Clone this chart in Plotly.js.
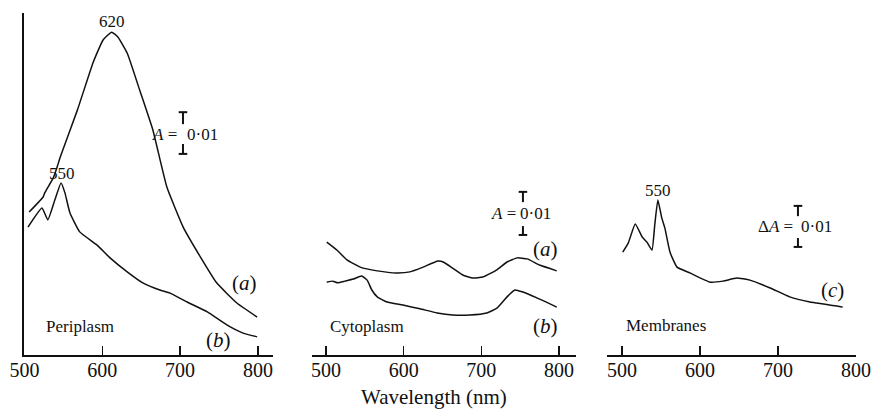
<!DOCTYPE html>
<html>
<head>
<meta charset="utf-8">
<script src="https://cdn.plot.ly/plotly-3.0.1.min.js"></script>
<style>html,body{margin:0;padding:0;background:#fff;}#chart{width:875px;height:411px;}</style>
</head>
<body>
<div id="chart"></div>
<script>
// Wavelength (nm) and relative absorbance (arbitrary units, 0-100 full axis)
const periA_x = [506, 524, 526, 537, 542, 546, 568, 588, 601, 612, 620, 632, 648, 665, 683, 704, 726, 747, 773, 799];
const periA_y = [41.8, 46.2, 47.4, 51.8, 55.0, 57.9, 71.6, 85.4, 92.1, 94.4, 93.0, 88.3, 77.5, 65.8, 49.1, 37.4, 28.7, 21.1, 15.2, 11.1];
const periB_x = [504.5, 522.5, 530, 539, 547, 552, 558.5, 571, 593, 610, 632, 652, 674, 687, 709, 735, 760, 781, 799];
const periB_y = [37.4, 43.0, 39.5, 45.3, 50.3, 47.4, 41.5, 36.0, 32.2, 28.4, 24.3, 21.1, 19.0, 18.1, 15.5, 12.6, 8.8, 6.4, 5.3];
const cytoA_x = [501, 514, 527, 544, 566, 591, 608, 625, 644, 651, 663, 676, 689, 702, 720, 733, 746, 759, 775, 797];
const cytoA_y = [33.0, 30.7, 27.8, 25.7, 24.6, 24.0, 24.3, 25.7, 27.5, 27.2, 25.4, 23.4, 22.5, 22.8, 24.9, 27.2, 28.4, 28.1, 26.3, 24.6];
const cytoB_x = [501, 509, 515, 524.5, 535, 546, 553, 559, 566, 578.5, 599, 621, 643, 663, 685, 707, 720, 733, 743, 753.5, 771.5, 797];
const cytoB_y = [21.3, 21.6, 21.1, 21.6, 22.2, 23.1, 21.9, 19.0, 17.0, 15.5, 14.6, 13.5, 12.3, 11.7, 11.7, 12.3, 13.7, 17.0, 19.0, 18.4, 16.7, 14.0];
const membC_x = [501, 508, 517, 526, 532, 538.5, 542, 546, 551, 555, 561.5, 570.5, 587, 613, 629.5, 647, 664, 690, 715, 741, 776, 783];
const membC_y = [30.1, 32.7, 38.3, 34.5, 33.0, 30.7, 38.0, 45.3, 40.1, 37.1, 30.1, 25.7, 24.0, 21.3, 21.6, 22.5, 21.9, 19.6, 17.0, 15.5, 14.3, 14.0];
const tickVals = [500, 600, 700, 800];
const tickText = ['500', '600', '700', '800'];
const panelNames = ['Periplasm', 'Cytoplasm', 'Membranes'];
const peakLabels = ['620', '550', '550'];
const scaleLabels = ['<i>A</i> =', '<i>A</i> =', 'Δ<i>A</i> ='];
const scaleValue = '0·01';

const W = 875, H = 411;
const px = v => v / W;
const yBot = (H - 355) / H, yTop = (H - 13) / H;
const serif = 'Liberation Serif, Times New Roman, serif';
const ink = '#111';

function tr(x, y, xa, ya) {
  return {x: x, y: y, xaxis: xa, yaxis: ya, type: 'scatter', mode: 'lines',
    line: {color: ink, width: 1.5, shape: 'spline', smoothing: 0.4}, hoverinfo: 'skip', showlegend: false};
}
const data = [
  tr(periA_x, periA_y, 'x', 'y'),
  tr(periB_x, periB_y, 'x', 'y'),
  tr(cytoA_x, cytoA_y, 'x2', 'y2'),
  tr(cytoB_x, cytoB_y, 'x2', 'y2'),
  tr(membC_x, membC_y, 'x3', 'y3')
];

function xax(dom, rng, anchor) {
  return {domain: dom, range: rng, anchor: anchor, showline: true, linecolor: ink, linewidth: 2,
    ticks: 'inside', ticklen: 9, tickwidth: 1.5, tickcolor: ink, tickvals: tickVals, ticktext: tickText,
    ticklabelstandoff: -4,
    tickfont: {family: serif, size: 20, color: ink}, showgrid: false, zeroline: false, fixedrange: true};
}
function yax(anchor, show) {
  return {domain: [yBot, yTop], range: [0, 100], anchor: anchor, showline: show, linecolor: ink, linewidth: 2,
    ticks: '', showticklabels: false, showgrid: false, zeroline: false, fixedrange: true};
}

function ann(xr, yr, x, y, text, size, xanchor) {
  return {xref: xr, yref: yr, x: x, y: y, text: text, showarrow: false, xanchor: xanchor || 'center', yanchor: 'middle',
    font: {family: serif, size: size, color: ink}};
}
const annotations = [
  ann('x', 'y', 612, 97.4, peakLabels[0], 17),
  ann('x', 'y', 548, 53.2, peakLabels[1], 17),
  ann('x', 'y', 783, 21.1, '(<i>a</i>)', 21),
  ann('x', 'y', 749, 4.4, '(<i>b</i>)', 21),
  ann('x', 'y', 525, 8.2, panelNames[0], 17, 'left'),
  ann('x', 'y', 699, 64.6, scaleLabels[0], 17, 'right'),
  ann('x', 'y', 706, 64.6, scaleValue, 17, 'left'),
  ann('x2', 'y2', 782, 31.0, '(<i>a</i>)', 21),
  ann('x2', 'y2', 782, 8.5, '(<i>b</i>)', 21),
  ann('x2', 'y2', 502, 8.2, panelNames[1], 17, 'left'),
  ann('x2', 'y2', 747, 41.5, scaleLabels[1], 17, 'right'),
  ann('x2', 'y2', 747, 41.5, scaleValue, 17, 'left'),
  ann('x3', 'y3', 770.5, 19.0, '(<i>c</i>)', 21),
  ann('x3', 'y3', 503, 8.5, panelNames[2], 17, 'left'),
  ann('x3', 'y3', 546, 48.2, peakLabels[2], 17),
  ann('x3', 'y3', 722, 37.5, scaleLabels[2], 17, 'right'),
  ann('x3', 'y3', 727, 37.5, scaleValue, 17, 'left'),
  {xref: 'paper', yref: 'paper', x: px(434), y: (H - 397) / H, text: 'Wavelength (nm)', showarrow: false,
    xanchor: 'center', yanchor: 'middle', font: {family: serif, size: 21, color: ink}}
];

function bar(xr, yr, x, yTopV, yTopEnd, yBotStart, yBotV, cap) {
  const s = {type: 'line', xref: xr, yref: yr, line: {color: ink, width: 2}};
  return [
    Object.assign({}, s, {x0: x, x1: x, y0: yTopV, y1: yTopEnd}),
    Object.assign({}, s, {x0: x - cap, x1: x + cap, y0: yTopV, y1: yTopV}),
    Object.assign({}, s, {x0: x, x1: x, y0: yBotStart, y1: yBotV}),
    Object.assign({}, s, {x0: x - cap, x1: x + cap, y0: yBotV, y1: yBotV})
  ];
}
const shapes = [].concat(
  bar('x', 'y', 703.7, 71.0, 67.5, 61.7, 58.8, 5.5),
  bar('x2', 'y2', 753.5, 47.7, 44.7, 37.7, 35.1, 5.5),
  bar('x3', 'y3', 725.6, 43.6, 40.6, 34.2, 31.6, 5.5)
);

const layout = {
  width: W, height: H, margin: {l: 0, r: 0, t: 0, b: 0}, paper_bgcolor: '#fff', plot_bgcolor: 'rgba(0,0,0,0)',
  showlegend: false,
  xaxis: xax([px(24), px(273)], [499.4, 819.4], 'y'),
  yaxis: yax('x', true),
  xaxis2: xax([px(312), px(576)], [482, 821.8], 'y2'),
  yaxis2: yax('x2', false),
  xaxis3: xax([px(607), px(856)], [480.8, 800], 'y3'),
  yaxis3: yax('x3', false),
  annotations: annotations,
  shapes: shapes
};
Plotly.newPlot('chart', data, layout, {displayModeBar: false, staticPlot: true});
</script>
</body>
</html>
